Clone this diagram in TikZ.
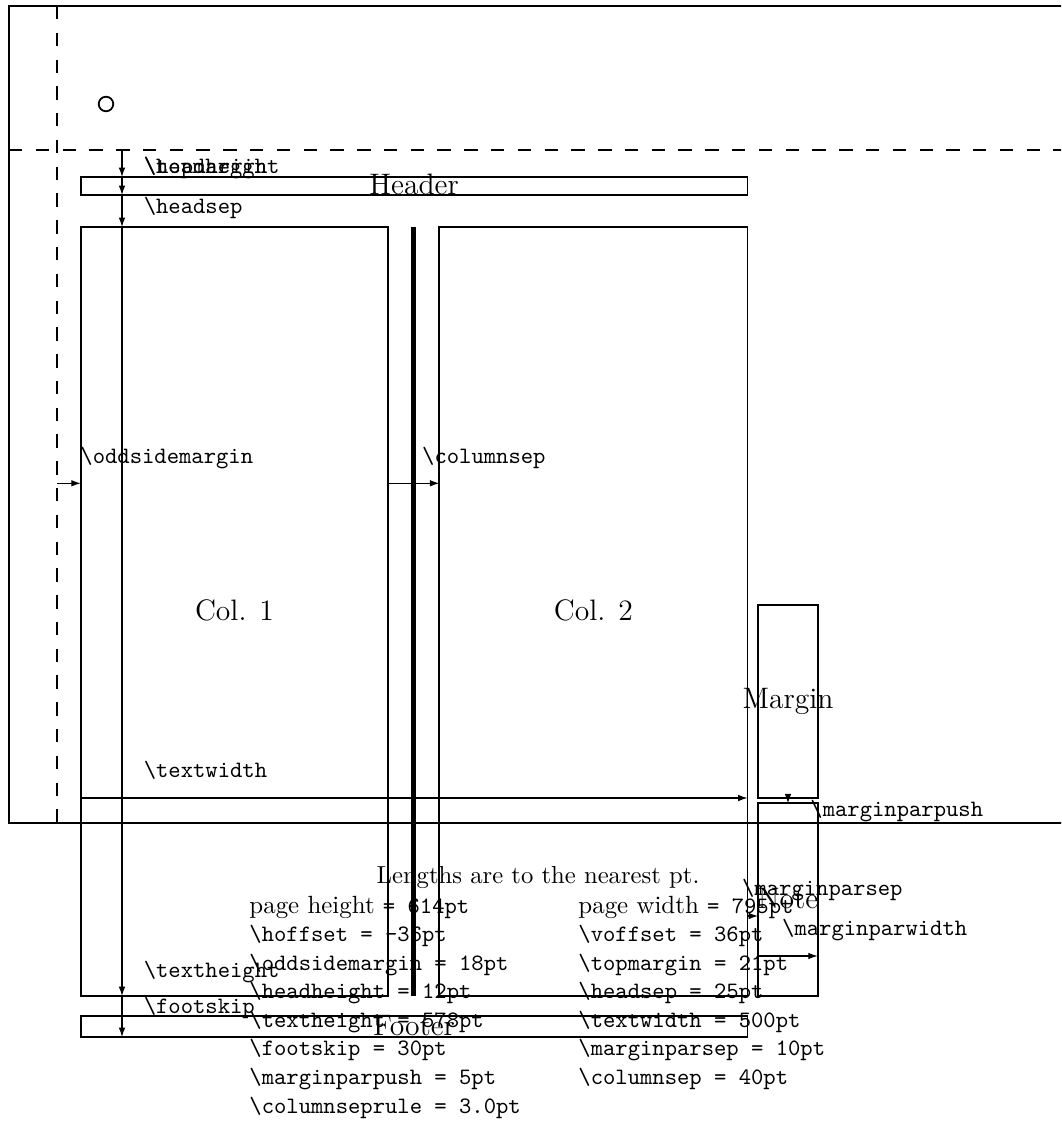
\documentclass[tikz,border=0pt]{standalone}
\usepackage{tikz}
\usetikzlibrary{arrows.meta,positioning}

\newcommand{\lenname}[1]{\texttt{\textbackslash #1}}

\begin{document}
\begin{tikzpicture}[x=0.4257pt, y=-0.4257pt]
    \tikzstyle{frame}=[line width=0.9pt]
    \tikzstyle{guide}=[line width=0.9pt, dash pattern=on 5.7pt off 5.7pt]
    \tikzstyle{box}=[line width=0.75pt]
    \tikzstyle{dim}=[line width=0.45pt, -{Latex[length=4pt,width=2.8pt]}]
    \tikzstyle{lbl}=[anchor=base west, inner sep=0pt, font=\ttfamily]
    \tikzstyle{part}=[anchor=base, inner sep=0pt, font=\fontsize{12.6}{15}\selectfont]
    \tikzstyle{row}=[anchor=base west, inner sep=0pt, font=\ttfamily]

    \useasboundingbox (0,0) rectangle (1061,1124);
    \clip (0,0) rectangle (1061,1124);

    % page, origin lines and reference point
    \draw[frame] (9,6) rectangle (1100,823);
    \draw[guide] (9,150) -- (1100,150);
    \draw[guide] (57.3,6) -- (57.3,823);
    \draw[box] (106,104) circle[radius=3.1pt];

    % header, body, footer, margin notes
    \draw[box] (80.7,177) rectangle (747.5,195);
    \draw[box] (80.7,227) rectangle (388.3,996);
    \draw[box] (439.3,227) rectangle (747.5,996);
    \draw[line width=1.8pt] (413.6,227) -- (413.6,996);
    \draw[box] (80.7,1016) rectangle (747.5,1037);
    \draw[box] (758,605) rectangle (817.7,798);
    \draw[box] (758,803.3) rectangle (817.7,996);

    \node[part] (hdr) at (414.1,195) {Header};
    \node[part] (ftr) at (414.1,1035) {Footer};
    \node[part] (col1) at (234.5,620) {Col. 1};
    \node[part] (col2) at (593.4,620) {Col. 2};
    \node[part] (mrg) at (788,708) {Margin};
    \node[part] (note) at (788,908) {Note};

    % dimension ends
    \coordinate (topm) at (122,150);
    \coordinate (headT) at (122,177);
    \coordinate (headB) at (122,195);
    \coordinate (bodyT) at (122,227);
    \coordinate (bodyB) at (122,996);
    \coordinate (footB) at (122,1037);
    \coordinate (hoffX) at (57.3,483.3);
    \coordinate (oddX) at (80.7,483.3);
    \coordinate (sepL) at (388.3,483.3);
    \coordinate (sepR) at (439.3,483.3);
    \coordinate (twL) at (80.7,798);
    \coordinate (twR) at (747.5,798);
    \coordinate (mpsL) at (747.5,916);
    \coordinate (mpsR) at (758,916);
    \coordinate (mpwL) at (758,956);
    \coordinate (mpwR) at (817.7,956);
    \coordinate (pushT) at (788,798);
    \coordinate (pushB) at (788,803.3);

    \draw[dim] (topm) -- (headT);
    \draw[dim] (headT) -- (headB);
    \draw[dim] (headB) -- (bodyT);
    \draw[dim] (bodyT) -- (bodyB);
    \draw[dim] (bodyB) -- (footB);
    \draw[dim] (hoffX) -- (oddX);
    \draw[dim] (sepL) -- (sepR);
    \draw[dim] (twL) -- (twR);
    \draw[dim] (mpsL) -- (mpsR);
    \draw[dim] (mpwL) -- (mpwR);
    \draw[dim] (pushT) -- (pushB);

    \node[lbl] (ltopm) at (143.3,174) {\lenname{topmargin}};
    \node[lbl] (lheadh) at (143.3,174) {\lenname{headheight}};
    \node[lbl] (lheads) at (143.3,213.3) {\lenname{headsep}};
    \node[lbl] (lodd) at (80,463.3) {\lenname{oddsidemargin}};
    \node[lbl] (lcsep) at (421.7,463.3) {\lenname{columnsep}};
    \node[lbl] (ltw) at (143.3,777) {\lenname{textwidth}};
    \node[lbl] (lth) at (143.3,977) {\lenname{textheight}};
    \node[lbl] (lfs) at (143.3,1013) {\lenname{footskip}};
    \node[lbl] (lmpush) at (810,816.7) {\lenname{marginparpush}};
    \node[lbl] (lmpsep) at (741.7,895) {\lenname{marginparsep}};
    \node[lbl] (lmpw) at (781.7,935) {\lenname{marginparwidth}};

    % values
    \node[anchor=base, inner sep=0pt, font=\fontsize{10.5}{12.6}\selectfont] (head) at (538,883) {Lengths are to the nearest pt.};
    \node[row] (r1) at (249,913) {{\fontsize{10.6}{12.6}\rmfamily\selectfont page height }= 614pt};
    \node[row] (r2) at (249,941.6) {\textbackslash hoffset = -36pt};
    \node[row] (r3) at (249,970.1) {\textbackslash oddsidemargin = 18pt};
    \node[row] (r4) at (249,998.7) {\textbackslash headheight = 12pt};
    \node[row] (r5) at (249,1027.3) {\textbackslash textheight = 578pt};
    \node[row] (r6) at (249,1055.9) {\textbackslash footskip = 30pt};
    \node[row] (r7) at (249,1084.4) {\textbackslash marginparpush = 5pt};
    \node[row] (r8) at (249,1113) {\textbackslash columnseprule = 3.0pt};
    \node[row] (s1) at (578,913) {{\fontsize{10.6}{12.6}\rmfamily\selectfont page width }= 795pt};
    \node[row] (s2) at (578,941.6) {\textbackslash voffset = 36pt};
    \node[row] (s3) at (578,970.1) {\textbackslash topmargin = 21pt};
    \node[row] (s4) at (578,998.7) {\textbackslash headsep = 25pt};
    \node[row] (s5) at (578,1027.3) {\textbackslash textwidth = 500pt};
    \node[row] (s6) at (578,1055.9) {\textbackslash marginparsep = 10pt};
    \node[row] (s7) at (578,1084.4) {\textbackslash columnsep = 40pt};
\end{tikzpicture}
\end{document}
